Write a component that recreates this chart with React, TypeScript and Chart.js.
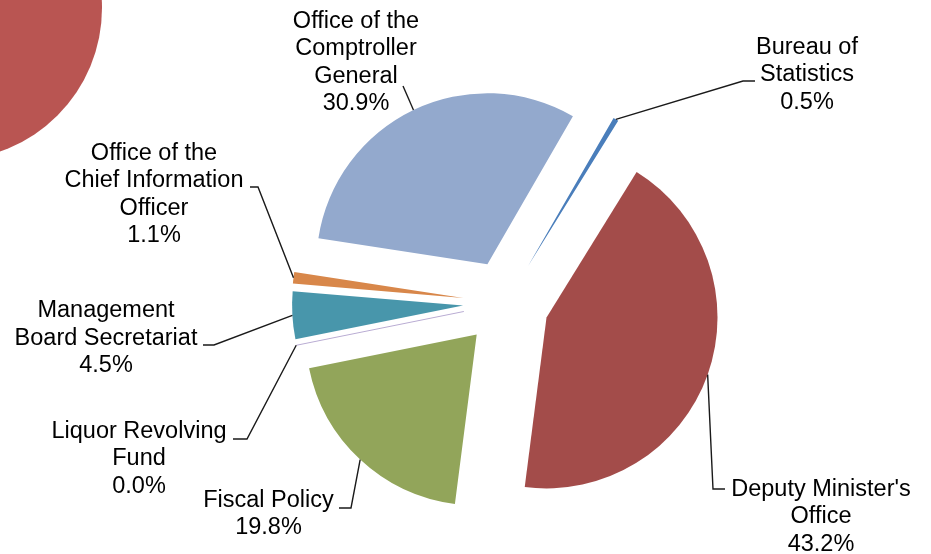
import React, { useEffect, useRef } from "react";
import { Chart, registerables } from "chart.js";

Chart.register(...registerables);

// ---- data ----
const categories = [
  "Bureau of Statistics",
  "Deputy Minister's Office",
  "Fiscal Policy",
  "Liquor Revolving Fund",
  "Management Board Secretariat",
  "Office of the Chief Information Officer",
  "Office of the Comptroller General",
];
const labelLines = [
  ["Bureau of", "Statistics"],
  ["Deputy Minister's", "Office"],
  ["Fiscal Policy"],
  ["Liquor Revolving", "Fund"],
  ["Management", "Board Secretariat"],
  ["Office of the", "Chief Information", "Officer"],
  ["Office of the", "Comptroller", "General"],
];
const shares = [0.5, 43.2, 19.8, 0.0, 4.5, 1.1, 30.9];
const percentLabels = ["0.5%", "43.2%", "19.8%", "0.0%", "4.5%", "1.1%", "30.9%"];

// ---- style ----
const colors = ["#4A7EBB", "#A34C4A", "#92A55A", "#8064A2", "#4896AB", "#D8874A", "#93A9CD"];
const EXPLODE = 43;
const RADIUS = 171;
const FONT = '23.5px "Liberation Sans", Arial, sans-serif';
const LINE_H = 27.3;

// label layout: text centre x, first line middle y, elbow point, stub end (null = none)
const labelLayout = [
  { x: 807, y: 47.5, elbow: [743, 81], stub: [755, 81] },
  { x: 821, y: 489.5, elbow: [713, 489], stub: [725, 489] },
  { x: 268.5, y: 500.5, elbow: [351, 508], stub: [339, 508] },
  { x: 139, y: 431.5, elbow: [247, 439], stub: [233, 439] },
  { x: 106, y: 311, elbow: [214, 345], stub: [203, 345] },
  { x: 154, y: 153.5, elbow: [258, 187], stub: [250, 187] },
  { x: 356, y: 21.5, elbow: [403, 86], stub: null },
];

const explodePlugin = {
  id: "explodeSlices",
  beforeDatasetsDraw(chart: any) {
    const meta = chart.getDatasetMeta(0);
    const { left, right, top, bottom } = chart.chartArea;
    const cx = (left + right) / 2;
    const cy = (top + bottom) / 2;
    meta.data.forEach((el: any) => {
      const mid = (el.startAngle + el.endAngle) / 2;
      el.x = cx + Math.cos(mid) * EXPLODE;
      el.y = cy + Math.sin(mid) * EXPLODE;
    });
    // decorative fragment in the top-left corner
    const ctx = chart.ctx;
    ctx.save();
    ctx.fillStyle = "#B95552";
    ctx.beginPath();
    ctx.arc(-50, 8, 152, 0, Math.PI * 2);
    ctx.fill();
    ctx.restore();
  },
};

const labelPlugin = {
  id: "sliceLabels",
  afterDatasetsDraw(chart: any) {
    const ctx = chart.ctx;
    const meta = chart.getDatasetMeta(0);
    ctx.save();
    meta.data.forEach((el: any, i: number) => {
      const mid = (el.startAngle + el.endAngle) / 2;
      const ex = el.x + Math.cos(mid) * el.outerRadius;
      const ey = el.y + Math.sin(mid) * el.outerRadius;
      if (shares[i] === 0) {
        ctx.strokeStyle = "#B9ACD3";
        ctx.lineWidth = 1;
        ctx.beginPath();
        ctx.moveTo(el.x, el.y);
        ctx.lineTo(ex, ey);
        ctx.stroke();
      }
      const L = labelLayout[i];
      ctx.strokeStyle = "#1a1a1a";
      ctx.lineWidth = 1.4;
      ctx.beginPath();
      ctx.moveTo(ex, ey);
      ctx.lineTo(L.elbow[0], L.elbow[1]);
      if (L.stub) ctx.lineTo(L.stub[0], L.stub[1]);
      ctx.stroke();

      ctx.fillStyle = "#000";
      ctx.font = FONT;
      ctx.textAlign = "center";
      ctx.textBaseline = "middle";
      const lines = [...labelLines[i], percentLabels[i]];
      lines.forEach((t, k) => ctx.fillText(t, L.x, L.y + k * LINE_H));
    });
    ctx.restore();
  },
};

export default function App() {
  const ref = useRef<HTMLCanvasElement | null>(null);
  useEffect(() => {
    if (!ref.current) return;
    const chart = new Chart(ref.current, {
      type: "pie",
      data: {
        labels: categories,
        datasets: [
          {
            data: shares,
            backgroundColor: colors,
            borderWidth: 0,
            radius: RADIUS,
          } as any,
        ],
      },
      options: {
        responsive: false,
        animation: false,
        events: [],
        rotation: 30,
        layout: { padding: { left: 81, right: 0, top: 52, bottom: 0 } },
        plugins: {
          legend: { display: false },
          tooltip: { enabled: false },
        },
      },
      plugins: [explodePlugin, labelPlugin],
    });
    return () => chart.destroy();
  }, []);
  return (
    <div style={{ position: "fixed", left: 0, top: 0, width: 931, height: 554, background: "#fff" }}>
      <canvas ref={ref} width={931} height={554} style={{ display: "block" }} />
    </div>
  );
}
